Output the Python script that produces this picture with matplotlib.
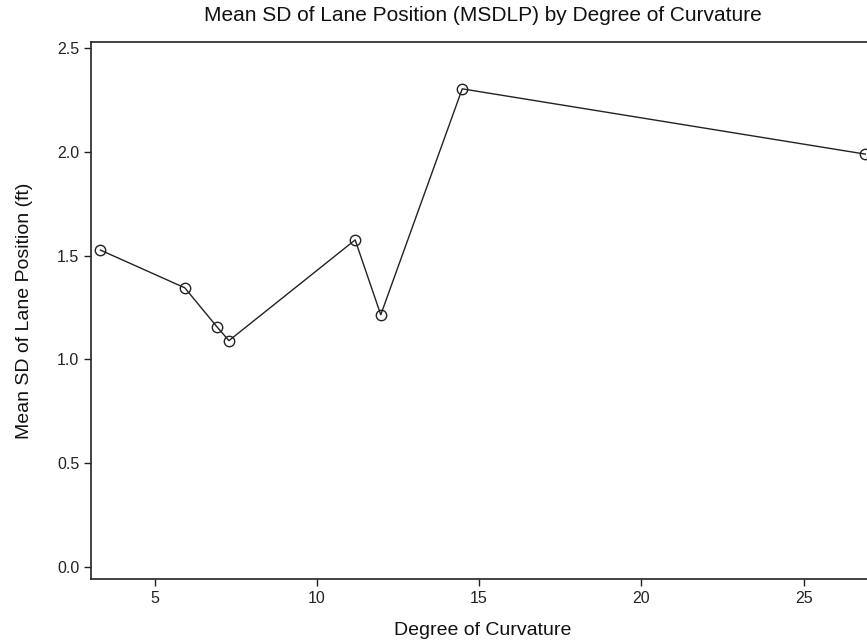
import matplotlib
matplotlib.use("Agg")
import matplotlib.pyplot as plt

curvature = [3.33, 5.93, 6.92, 7.29, 11.18, 11.97, 14.48, 26.9]
msdlp = [1.527, 1.345, 1.157, 1.090, 1.576, 1.215, 2.305, 1.990]
x_ticks = [5, 10, 15, 20, 25]
y_ticks = [0.0, 0.5, 1.0, 1.5, 2.0, 2.5]

plt.rcParams['font.family'] = ['Liberation Sans', 'DejaVu Sans']

W, H = 867, 644
fig = plt.figure(figsize=(W / 100, H / 100), dpi=100)
left, right, top, bottom = 91, 875, 42, 579
ax = fig.add_axes([left / W, (H - bottom) / H, (right - left) / W, (bottom - top) / H])

ax.plot(curvature, msdlp, color='#222222', lw=1.0, marker='o', ms=7.5,
        mfc='none', mec='#222222', mew=1.0, clip_on=False)

ax.set_xlim(3.04, 27.2)
ax.set_ylim(-0.06, 2.531)
ax.set_xticks(x_ticks)
ax.set_yticks(y_ticks)
ax.set_yticklabels([f"{v:.1f}" for v in y_ticks])
ax.tick_params(direction='out', length=5, width=1, labelsize=11.5, colors='#222222')
for s in ax.spines.values():
    s.set_linewidth(1.2)
    s.set_color('#222222')

ax.set_title("Mean SD of Lane Position (MSDLP) by Degree of Curvature",
             fontsize=15, pad=15, color='#111111')
ax.set_xlabel("Degree of Curvature", fontsize=14, labelpad=12, color='#111111')
ax.set_ylabel("Mean SD of Lane Position (ft)", fontsize=14, labelpad=17, color='#111111')

fig.savefig("out.png", dpi=100)
